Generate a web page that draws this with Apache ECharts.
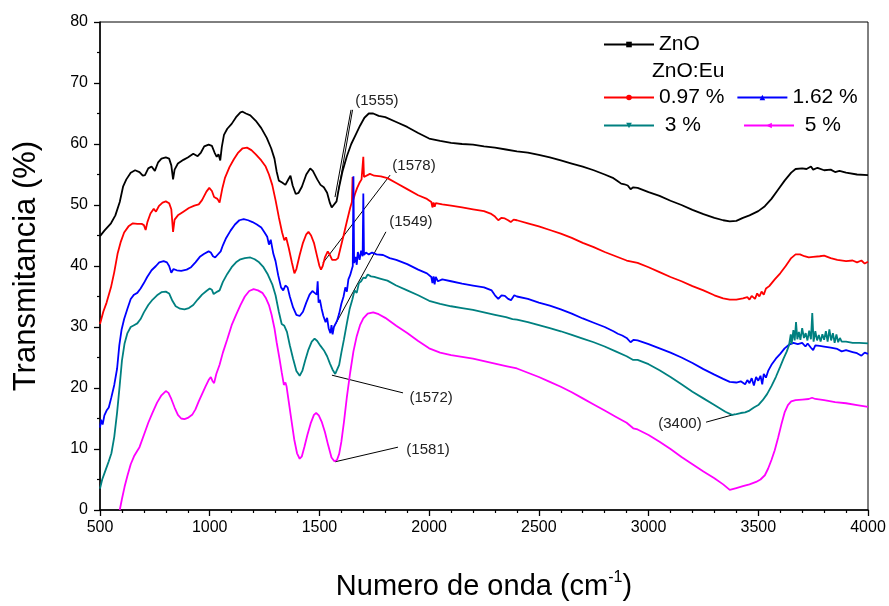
<!DOCTYPE html>
<html>
<head>
<meta charset="utf-8">
<script src="https://cdn.jsdelivr.net/npm/echarts@6/dist/echarts.min.js"></script>
<style>
  html, body { margin: 0; padding: 0; background: #fff; }
  #chart { width: 889px; height: 606px; }
</style>
</head>
<body>
<div id="chart"></div>
<script>
// FTIR transmittance spectra: [wavenumber (cm-1), transmittance (%)]
const zno = [[500,44.9],[520,45.8],[550,47],[570,48.3],[590,50.5],[605,53],[620,54.2],[640,55.3],[660,55.7],[680,55.4],[695,54.8],[705,54.9],[720,56],[735,56.3],[750,55.6],[765,57],[780,57.6],[800,57.8],[815,57.6],[825,56.5],[833,54.2],[840,55.8],[855,56.8],[880,57.4],[900,57.8],[925,58.4],[945,58.0],[960,58.6],[975,59.6],[995,59.9],[1010,59.7],[1022,58.6],[1032,57.9],[1040,58.3],[1048,57.3],[1055,59.5],[1065,61.5],[1080,62.5],[1100,63.3],[1120,64.4],[1140,65.2],[1150,65.3],[1165,65.0],[1185,64.7],[1210,63.8],[1235,62.6],[1260,61],[1280,59.3],[1295,57.6],[1305,55.5],[1315,54],[1330,53.7],[1345,53.3],[1360,54.3],[1368,54.8],[1378,53.2],[1392,51.8],[1405,52.0],[1420,53.0],[1440,55.0],[1458,56.0],[1470,55.6],[1490,54.2],[1505,53.3],[1520,52.9],[1535,52.0],[1548,50.3],[1556,49.6],[1565,49.9],[1578,50.6],[1590,53.0],[1605,55.5],[1625,58.0],[1645,60.0],[1665,61.5],[1685,63.0],[1705,64.3],[1725,65.0],[1745,65.0],[1770,64.6],[1800,64.4],[1850,63.6],[1900,62.8],[1950,61.8],[2000,60.9],[2050,60.5],[2100,60.2],[2150,60.0],[2200,59.9],[2250,59.6],[2300,59.4],[2350,59.1],[2400,58.8],[2450,58.6],[2500,58.2],[2550,57.8],[2600,57.3],[2650,56.8],[2700,56.3],[2750,55.7],[2800,55.0],[2840,54.4],[2860,53.9],[2875,53.5],[2890,53.4],[2905,53.2],[2918,52.6],[2930,52.9],[2950,52.8],[3000,52.1],[3050,51.5],[3100,50.7],[3150,50.0],[3200,49.2],[3250,48.5],[3300,47.9],[3340,47.5],[3370,47.3],[3400,47.4],[3430,47.9],[3460,48.3],[3500,49.0],[3530,49.8],[3560,51.0],[3590,52.5],[3620,54.0],[3650,55.3],[3670,55.9],[3700,56.0],[3720,55.9],[3740,56.3],[3750,55.8],[3770,56.1],[3800,55.7],[3830,55.8],[3850,55.4],[3870,55.6],[3900,55.3],[3950,55.0],[4000,54.9]];

const eu097 = [[500,30.5],[515,32.5],[530,34],[550,36.5],[565,39],[580,42],[595,44],[610,45.5],[630,46.5],[650,47.0],[670,46.9],[690,46.9],[700,46.7],[708,45.9],[716,47.2],[730,48.6],[745,49.4],[755,48.9],[768,49.8],[785,50.4],[800,50.6],[815,50.3],[825,49.3],[833,45.6],[840,47.6],[855,48.3],[880,48.9],[905,49.5],[930,49.9],[950,50.1],[965,50.8],[985,52.2],[998,52.8],[1010,52.3],[1020,51.3],[1035,51.0],[1045,50.4],[1050,50.3],[1058,52.8],[1070,54.5],[1090,56.2],[1110,57.5],[1130,58.6],[1150,59.3],[1170,59.4],[1190,59.0],[1210,58.3],[1235,57.3],[1255,56.3],[1270,55.0],[1285,53.3],[1300,50.8],[1315,48.0],[1330,45.5],[1340,44.2],[1348,44.7],[1360,43.0],[1375,40.5],[1386,38.8],[1395,39.5],[1410,41.8],[1425,43.8],[1440,45.2],[1450,45.6],[1462,45.0],[1475,43.8],[1490,41.5],[1500,40.0],[1507,39.4],[1515,40.0],[1525,41.4],[1538,42.4],[1548,41.8],[1558,41.0],[1565,40.8],[1575,41.0],[1585,41.3],[1595,42.8],[1610,45.0],[1625,47.3],[1640,49.5],[1648,50.5],[1651,54.6],[1654,50.8],[1662,51.8],[1672,52.8],[1682,53.6],[1692,54.2],[1697,54.4],[1700,57.9],[1703,54.6],[1712,54.9],[1730,55.1],[1750,54.8],[1780,54.7],[1810,54.4],[1850,53.6],[1900,52.6],[1950,51.6],[1990,51.0],[2010,50.5],[2015,49.6],[2020,50.4],[2025,49.7],[2030,50.3],[2060,50.1],[2100,49.9],[2150,49.6],[2200,49.3],[2250,49.0],[2280,48.6],[2300,48.1],[2315,47.5],[2330,47.9],[2345,47.8],[2360,47.5],[2372,47.2],[2385,47.6],[2400,47.5],[2450,47.0],[2500,46.5],[2550,45.9],[2600,45.3],[2650,44.6],[2700,43.8],[2750,43.1],[2800,42.3],[2850,41.6],[2900,40.9],[2950,40.5],[3000,39.8],[3050,39.0],[3100,38.2],[3150,37.5],[3200,36.7],[3250,36.0],[3300,35.2],[3340,34.7],[3370,34.5],[3400,34.5],[3430,34.7],[3450,34.9],[3460,34.5],[3470,35.1],[3485,34.6],[3495,35.5],[3505,35.0],[3515,35.8],[3525,35.3],[3535,36.3],[3550,36.7],[3575,37.8],[3600,38.8],[3625,40.0],[3650,41.3],[3670,41.9],[3690,41.9],[3710,41.6],[3730,41.4],[3750,41.5],[3780,41.6],[3800,41.7],[3830,41.3],[3860,41.0],[3900,40.8],[3930,40.9],[3950,40.6],[3970,40.9],[3985,40.4],[4000,40.7]];

const eu162 = [[500,13.5],[505,14.8],[512,14.0],[520,15.5],[530,16.3],[540,16.8],[552,18.5],[565,20.5],[578,23.2],[588,27.0],[598,29.5],[610,31.3],[625,33.0],[640,34.6],[655,35.3],[670,35.6],[685,36.3],[700,37.2],[715,38.2],[735,39.3],[755,40.0],[770,40.6],[790,40.8],[805,40.6],[815,40.0],[825,38.9],[835,39.5],[850,39.3],[870,39.2],[895,39.4],[915,39.8],[935,40.6],[955,41.5],[975,42.0],[995,42.4],[1005,42.2],[1015,41.6],[1025,41.4],[1035,41.8],[1050,42.4],[1060,43.4],[1075,44.6],[1095,45.8],[1115,46.8],[1135,47.5],[1155,47.7],[1175,47.5],[1195,47.2],[1215,46.8],[1235,46.3],[1250,45.5],[1262,44.8],[1270,43.5],[1278,44.3],[1290,42.0],[1300,40.8],[1312,38.5],[1325,36.5],[1335,36.0],[1345,36.8],[1355,36.5],[1365,35.0],[1380,33.2],[1395,32.0],[1410,31.8],[1425,32.5],[1440,34.0],[1455,35.3],[1468,35.9],[1478,35.6],[1488,35.3],[1492,37.5],[1496,34.0],[1502,34.5],[1510,33.0],[1518,31.8],[1528,30.8],[1535,31.5],[1542,29.8],[1550,29.0],[1555,30.3],[1560,28.8],[1566,30.0],[1572,29.7],[1580,31.0],[1590,32.2],[1600,33.8],[1610,35.0],[1618,36.5],[1625,35.8],[1632,37.8],[1640,38.5],[1648,39.5],[1652,40.0],[1655,54.7],[1658,40.5],[1665,41.5],[1670,40.2],[1675,42.3],[1683,41.0],[1690,42.5],[1697,41.6],[1700,51.9],[1703,41.8],[1712,42.2],[1725,41.9],[1740,42.2],[1760,41.9],[1790,41.8],[1820,41.3],[1850,41.0],[1900,40.3],[1950,39.4],[1990,38.8],[2010,38.2],[2015,37.2],[2020,38.3],[2025,37.0],[2030,38.2],[2040,37.5],[2060,37.8],[2100,37.5],[2150,37.1],[2200,36.8],[2250,36.5],[2285,36.0],[2300,35.2],[2315,34.6],[2330,35.2],[2345,35.1],[2360,34.6],[2373,34.4],[2388,35.2],[2400,35.0],[2450,34.6],[2500,34.0],[2550,33.5],[2600,32.9],[2650,32.2],[2700,31.4],[2750,30.7],[2800,30.0],[2840,29.3],[2860,28.9],[2880,28.6],[2900,28.2],[2918,27.5],[2932,27.9],[2950,27.8],[3000,27.2],[3050,26.5],[3100,25.8],[3150,25.0],[3200,24.1],[3250,23.1],[3300,22.2],[3340,21.5],[3370,21.0],[3400,20.9],[3420,21.1],[3440,20.6],[3450,21.3],[3460,20.8],[3470,21.6],[3480,20.4],[3490,21.8],[3500,21.2],[3510,22.0],[3518,20.6],[3525,22.3],[3535,21.7],[3545,22.8],[3560,23.8],[3580,24.8],[3600,25.6],[3620,26.5],[3640,27.1],[3660,27.4],[3680,27.2],[3700,27.4],[3715,26.8],[3725,27.3],[3740,26.6],[3750,26.2],[3760,27.0],[3780,26.9],[3800,26.8],[3830,26.6],[3860,26.4],[3880,26.0],[3900,26.2],[3930,25.9],[3950,25.7],[3970,25.3],[3985,25.8],[4000,25.6]];

const eu3 = [[500,3.5],[510,5.0],[525,6.5],[540,8.0],[552,9.3],[565,12.0],[578,16.0],[590,20.5],[600,24.5],[612,27.3],[625,29.0],[640,30.0],[655,30.3],[670,30.6],[685,31.3],[700,32.4],[720,33.6],[740,34.5],[760,35.2],[780,35.7],[800,35.8],[815,35.5],[830,34.3],[845,33.4],[865,33.0],[885,32.9],[905,33.1],[925,33.6],[945,34.5],[965,35.3],[985,35.9],[1000,36.3],[1010,36.1],[1018,35.4],[1025,35.1],[1035,35.8],[1045,36.0],[1060,37.4],[1080,38.7],[1100,39.8],[1120,40.6],[1140,41.1],[1160,41.3],[1185,41.4],[1205,41.1],[1225,40.6],[1245,39.8],[1265,38.6],[1285,37.0],[1300,35.2],[1315,32.5],[1328,30.5],[1340,30.2],[1352,29.2],[1365,27.0],[1380,24.8],[1395,22.8],[1410,22.0],[1422,22.8],[1435,24.5],[1450,26.3],[1465,27.6],[1478,28.1],[1490,27.7],[1505,26.9],[1520,26.2],[1535,25.2],[1548,24.0],[1560,23.0],[1572,22.3],[1580,22.6],[1590,23.8],[1600,25.8],[1612,28.0],[1625,30.6],[1638,33.0],[1650,34.5],[1660,36.0],[1670,35.6],[1680,37.2],[1690,37.5],[1700,38.1],[1710,38.0],[1720,38.6],[1735,38.3],[1750,38.2],[1780,37.9],[1810,37.6],[1850,36.8],[1900,36.0],[1950,35.2],[2000,34.3],[2050,33.8],[2100,33.4],[2150,33.1],[2200,32.8],[2250,32.4],[2300,32.0],[2350,31.6],[2380,31.3],[2400,31.2],[2450,30.8],[2500,30.3],[2550,29.8],[2600,29.3],[2650,28.7],[2700,28.1],[2750,27.5],[2800,26.8],[2850,26.0],[2900,25.2],[2930,24.6],[2950,24.6],[3000,23.9],[3050,22.9],[3100,21.8],[3150,20.6],[3200,19.4],[3250,18.3],[3300,17.2],[3350,16.1],[3380,15.6],[3400,15.7],[3420,15.9],[3440,16.0],[3460,16.3],[3480,16.8],[3500,17.2],[3520,18.0],[3540,19.0],[3560,20.3],[3580,21.8],[3600,23.5],[3615,24.8],[3630,26.0],[3640,27.0],[3648,28.8],[3652,27.2],[3660,29.5],[3666,27.8],[3672,30.8],[3678,28.0],[3685,29.2],[3692,27.9],[3700,29.8],[3708,28.2],[3716,29.0],[3724,27.8],[3732,29.4],[3740,28.0],[3746,32.3],[3752,27.6],[3760,29.3],[3768,27.8],[3776,28.7],[3784,27.6],[3792,28.8],[3800,27.9],[3808,29.3],[3816,27.6],[3824,29.6],[3832,27.8],[3840,29.0],[3848,27.4],[3856,28.8],[3864,27.5],[3872,28.2],[3880,27.6],[3900,27.6],[3930,27.4],[3960,27.4],[4000,27.3]];

const eu5 = [[590,0],[600,1.8],[612,3.8],[625,5.6],[640,7.5],[655,8.8],[668,9.6],[680,10.3],[700,12.3],[720,14.3],[740,16.0],[760,17.6],[780,18.8],[800,19.5],[812,19.2],[825,18.2],[840,16.8],[855,15.6],[870,15.0],[885,14.9],[900,15.1],[920,15.6],[935,16.5],[950,17.8],[965,19.0],[980,20.2],[995,21.3],[1005,21.8],[1012,21.2],[1020,20.8],[1030,22.3],[1045,23.8],[1060,25.8],[1080,28.0],[1100,30.3],[1120,32.0],[1140,33.6],[1160,35.0],[1180,35.9],[1200,36.2],[1220,36.0],[1240,35.6],[1255,34.8],[1270,33.6],[1282,32.0],[1295,29.8],[1305,27.5],[1318,24.8],[1328,22.6],[1338,20.5],[1345,20.9],[1350,20.3],[1360,17.8],[1372,14.8],[1385,11.6],[1398,9.3],[1410,8.4],[1420,8.8],[1432,10.4],[1445,12.3],[1460,14.2],[1475,15.6],[1485,15.9],[1497,15.5],[1510,14.5],[1525,12.8],[1540,10.6],[1555,8.6],[1568,8.0],[1580,8.2],[1590,9.2],[1600,11.2],[1612,14.5],[1625,18.5],[1640,22.5],[1655,26.0],[1670,28.5],[1685,30.3],[1700,31.4],[1720,32.2],[1745,32.4],[1770,32.1],[1800,31.5],[1850,30.2],[1900,29.0],[1950,27.7],[2000,26.5],[2050,25.8],[2100,25.4],[2150,25.1],[2200,24.8],[2250,24.4],[2300,24.0],[2350,23.6],[2400,23.2],[2450,22.5],[2500,21.8],[2550,21.0],[2600,20.2],[2650,19.3],[2700,18.3],[2750,17.3],[2800,16.3],[2850,15.3],[2900,14.3],[2930,13.4],[2950,13.2],[3000,12.3],[3050,11.2],[3100,10.0],[3150,8.7],[3200,7.5],[3250,6.3],[3300,5.2],[3340,4.2],[3370,3.3],[3400,3.6],[3430,3.9],[3460,4.2],[3490,4.6],[3510,5.0],[3530,5.7],[3545,6.8],[3560,8.2],[3575,9.8],[3590,11.8],[3605,14.0],[3620,16.0],[3635,17.2],[3650,17.8],[3670,18.0],[3700,18.1],[3730,18.2],[3745,18.4],[3760,18.2],[3800,18.0],[3850,17.7],[3900,17.5],[3950,17.2],[4000,16.9]];

// Axis ranges and ticks
const xTicks = [500, 1000, 1500, 2000, 2500, 3000, 3500, 4000];
const yTicks = [0, 10, 20, 30, 40, 50, 60, 70, 80];

// Band assignments: leader line endpoints and label anchor, in data units
const bandNotes = [
  { text: '(1555)', lines: [[[1571, 51.3], [1644, 65.6]], [[1585, 52.0], [1651, 65.6]]], at: [1762, 67.0] },
  { text: '(1578)', lines: [[[1516, 40.5], [1822, 54.9]]], at: [1931, 56.4] },
  { text: '(1549)', lines: [[[1571, 30.3], [1803, 45.6]]], at: [1917, 47.2] },
  { text: '(1572)', lines: [[[1557, 22.1], [1881, 19.2]]], at: [2009, 18.4] },
  { text: '(1581)', lines: [[[1571, 7.9], [1858, 10.3]]], at: [1995, 9.8] },
  { text: '(3400)', lines: [[[3394, 15.7], [3262, 14.4]]], at: [3143, 14.1] }
];

const FONT = '"Liberation Sans", Arial, sans-serif';

function spectrum(name, data, color, symbol, rotate) {
  return {
    name: name,
    type: 'line',
    data: data,
    showSymbol: false,
    symbol: symbol,
    symbolRotate: rotate || 0,
    symbolSize: 5,
    lineStyle: { color: color, width: 1.8 },
    itemStyle: { color: color },
    silent: true,
    animation: false
  };
}

const chart = echarts.init(document.getElementById('chart'), null, { renderer: 'canvas' });

const legendBase = {
  orient: 'horizontal',
  itemWidth: 50,
  itemHeight: 7,
  selectedMode: false,
  padding: 0,
  textStyle: { fontFamily: FONT, fontSize: 21, color: '#000' }
};

const plainNumber = function (v) { return String(v); };

chart.setOption({
  backgroundColor: '#fff',
  animation: false,
  grid: {
    left: 100, right: 21, top: 22, bottom: 96,
    outerBoundsMode: 'none',
    show: true, borderColor: '#000', borderWidth: 1, backgroundColor: 'transparent'
  },
  xAxis: {
    type: 'value',
    min: xTicks[0], max: xTicks[xTicks.length - 1], interval: 500,
    name: '{a|Numero de onda (cm}{s|-1}{a|)}',
    nameLocation: 'middle', nameGap: 60,
    nameTextStyle: {
      rich: {
        a: { fontFamily: FONT, fontSize: 29, color: '#000', lineHeight: 34 },
        s: { fontFamily: FONT, fontSize: 16, color: '#000', lineHeight: 16, padding: [0, 0, 18, 0] }
      }
    },
    axisLine: { lineStyle: { color: '#000', width: 1.5 } },
    axisTick: { inside: false, length: 6, lineStyle: { color: '#000', width: 1.3 } },
    minorTick: { show: true, splitNumber: 5, length: 3, lineStyle: { color: '#000', width: 1.2 } },
    axisLabel: { fontFamily: FONT, fontSize: 16, color: '#000', margin: 10, formatter: plainNumber },
    splitLine: { show: false }
  },
  yAxis: {
    type: 'value',
    min: yTicks[0], max: yTicks[yTicks.length - 1], interval: 10,
    name: 'Transmitancia (%)',
    nameLocation: 'middle', nameGap: 58,
    nameTextStyle: { fontFamily: FONT, fontSize: 31, color: '#000' },
    axisLine: { lineStyle: { color: '#000', width: 1.5 } },
    axisTick: { inside: false, length: 6, lineStyle: { color: '#000', width: 1.3 } },
    minorTick: { show: true, splitNumber: 2, length: 3, lineStyle: { color: '#000', width: 1.2 } },
    axisLabel: { fontFamily: FONT, fontSize: 16, color: '#000', margin: 12, formatter: plainNumber },
    splitLine: { show: false }
  },
  legend: [
    Object.assign({}, legendBase, { data: ['ZnO'], left: 603, top: 34 }),
    Object.assign({}, legendBase, { data: ['0.97 %', '1.62 %'], left: 603, top: 87, itemGap: 12 }),
    Object.assign({}, legendBase, { data: ['3 %', '5 %'], left: 603, top: 115, itemGap: 42,
      formatter: function (n) { return ' ' + n; } })
  ],
  series: [
    spectrum('ZnO', zno, '#000000', 'rect'),
    spectrum('0.97 %', eu097, '#ff0000', 'circle'),
    spectrum('1.62 %', eu162, '#0000ff', 'triangle'),
    spectrum('3 %', eu3, '#008080', 'triangle', 180),
    spectrum('5 %', eu5, '#ff00ff', 'triangle', 90)
  ]
});

// Legend subtitle and band annotations placed through the axis scales
function toPx(p) { return chart.convertToPixel({ xAxisIndex: 0, yAxisIndex: 0 }, p); }

const elements = [{
  type: 'text', left: 652, top: 61,
  style: { text: 'ZnO:Eu', font: '21px ' + FONT, fill: '#000' }
}];
bandNotes.forEach(function (n) {
  n.lines.forEach(function (seg) {
    const a = toPx(seg[0]), b = toPx(seg[1]);
    elements.push({
      type: 'line', silent: true,
      shape: { x1: a[0], y1: a[1], x2: b[0], y2: b[1] },
      style: { stroke: '#000', lineWidth: 1 }
    });
  });
  const c = toPx(n.at);
  elements.push({
    type: 'text', x: c[0], y: c[1], silent: true,
    style: { text: n.text, font: '15px ' + FONT, fill: '#222', align: 'center', verticalAlign: 'middle' }
  });
});
chart.setOption({ graphic: { elements: elements } });
</script>
</body>
</html>
